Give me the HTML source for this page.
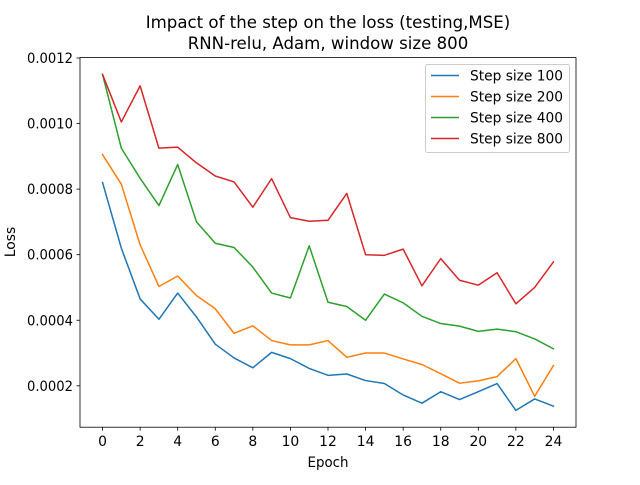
<!DOCTYPE html>
<html><head><meta charset="utf-8"><style>
body{margin:0;background:#fff;}
svg text{font-family:"DejaVu Sans","Liberation Sans",sans-serif;fill:#000;}
</style></head><body>
<svg id="chart" width="640" height="480" xmlns="http://www.w3.org/2000/svg">
<rect width="640" height="480" fill="#fff"/>
<text x="328" y="28" font-size="16.6" text-anchor="middle">Impact of the step on the loss (testing,MSE)</text>
<text x="328" y="49" font-size="16.6" text-anchor="middle">RNN-relu, Adam, window size 800</text>
<g id="plot"></g>
<text x="328" y="467" font-size="13.9" text-anchor="middle" textLength="41" lengthAdjust="spacingAndGlyphs">Epoch</text>
<text transform="translate(15,242) rotate(-90)" font-size="13.9" text-anchor="middle">Loss</text>
</svg>
<script>
const epochs=[0,1,2,3,4,5,6,7,8,9,10,11,12,13,14,15,16,17,18,19,20,21,22,23,24];
const step100=[0.00082,0.00062,0.000465,0.000403,0.000483,0.00041,0.000327,0.000285,0.000255,0.000302,0.000283,0.000253,0.000232,0.000236,0.000216,0.000207,0.000172,0.000147,0.000182,0.000158,0.000182,0.000207,0.000125,0.00016,0.000138];
const step200=[0.000905,0.000815,0.00063,0.000503,0.000535,0.000475,0.000435,0.00036,0.000383,0.000338,0.000325,0.000325,0.000338,0.000287,0.0003,0.0003,0.000282,0.000265,0.000237,0.000208,0.000215,0.000228,0.000283,0.000168,0.000262];
const step400=[0.00115,0.000925,0.000833,0.00075,0.000875,0.0007,0.000635,0.000622,0.000562,0.000483,0.000468,0.000627,0.000455,0.000442,0.0004,0.00048,0.000453,0.000412,0.00039,0.000382,0.000366,0.000373,0.000365,0.000343,0.000313];
const step800=[0.00115,0.001005,0.001115,0.000925,0.000928,0.00088,0.00084,0.000822,0.000745,0.000832,0.000713,0.000702,0.000705,0.000787,0.0006,0.000598,0.000617,0.000505,0.000588,0.000522,0.000507,0.000545,0.00045,0.0005,0.000578];
const seriesNames=["Step size 100","Step size 200","Step size 400","Step size 800"];
const xTicks=[0,2,4,6,8,10,12,14,16,18,20,22,24];
const yTicks=[0.0002,0.0004,0.0006,0.0008,0.0010,0.0012];
const yTickLabels=["0.0002","0.0004","0.0006","0.0008","0.0010","0.0012"];

const NS="http://www.w3.org/2000/svg";
const g=document.getElementById('plot');
const L=80,R=576,T=57.6,B=427.2;
const series=[step100,step200,step400,step800];
const colors=["#1f77b4","#ff7f0e","#2ca02c","#d62728"];
const xmin0=Math.min(...epochs),xmax0=Math.max(...epochs),xm=(xmax0-xmin0)*0.05;
const xmin=xmin0-xm,xmax=xmax0+xm;
const all=series.flat();
const ymin0=Math.min(...all),ymax0=Math.max(...all),ym=(ymax0-ymin0)*0.05;
const ymin=ymin0-ym,ymax=ymax0+ym;
function xs(v){return L+(v-xmin)/(xmax-xmin)*(R-L);}
function ys(v){return B-(v-ymin)/(ymax-ymin)*(B-T);}
function mk(t,a){const e=document.createElementNS(NS,t);for(const k in a)e.setAttribute(k,a[k]);return e;}
function txtLen(s){let w=0;for(const c of String(s))w+=(c==='.'?0.318:0.636);return w*13.9;}

xTicks.forEach(t=>{
  const x=xs(t);
  const ln=mk('line',{x1:x,x2:x,y1:B,y2:B+3.5,stroke:'#000','stroke-width':0.8});
  
  
  g.appendChild(ln);
  const tx=mk('text',{x:x,y:B+19,'font-size':13.9,'text-anchor':'middle',textLength:txtLen(t),lengthAdjust:'spacingAndGlyphs'});
  tx.textContent=t;
  
  
  g.appendChild(tx);
});
yTicks.forEach((t,i)=>{
  const y=ys(t);
  if(y<T-1||y>B+1)return;
  const ln=mk('line',{x1:L-3.5,x2:L,y1:y,y2:y,stroke:'#000','stroke-width':0.8});
  
  
  g.appendChild(ln);
  const tx=mk('text',{x:L-7,y:y+5,'font-size':13.9,'text-anchor':'end',textLength:46,lengthAdjust:'spacingAndGlyphs'});
  tx.textContent=yTickLabels[i];
  
  
  g.appendChild(tx);
});
series.forEach((s,i)=>{
  const p=mk('polyline',{points:s.map((v,j)=>xs(epochs[j])+','+ys(v)).join(' '),fill:'none',stroke:colors[i],'stroke-width':1.5,'stroke-linejoin':'round','stroke-linecap':'square'});
  
  
  g.appendChild(p);
});
const frame=mk('rect',{x:L,y:T,width:R-L,height:B-T,fill:'none',stroke:'#000','stroke-width':0.8});


g.appendChild(frame);
const lg=mk('g',{});


g.appendChild(lg);
lg.appendChild(mk('rect',{x:425.5,y:64.5,width:144,height:88,rx:2,fill:'#fff','fill-opacity':0.8,stroke:'#ccc','stroke-width':1}));
seriesNames.forEach((n,i)=>{
  const y=75.5+i*21;
  const e=mk('g',{});
  
  
  e.appendChild(mk('line',{x1:431,x2:459,y1:y,y2:y,stroke:colors[i],'stroke-width':1.5}));
  const t=mk('text',{x:470,y:y+5,'font-size':13.9,textLength:93,lengthAdjust:'spacingAndGlyphs'});
  t.textContent=n;
  e.appendChild(t);
  lg.appendChild(e);
});
</script>
</body></html>
